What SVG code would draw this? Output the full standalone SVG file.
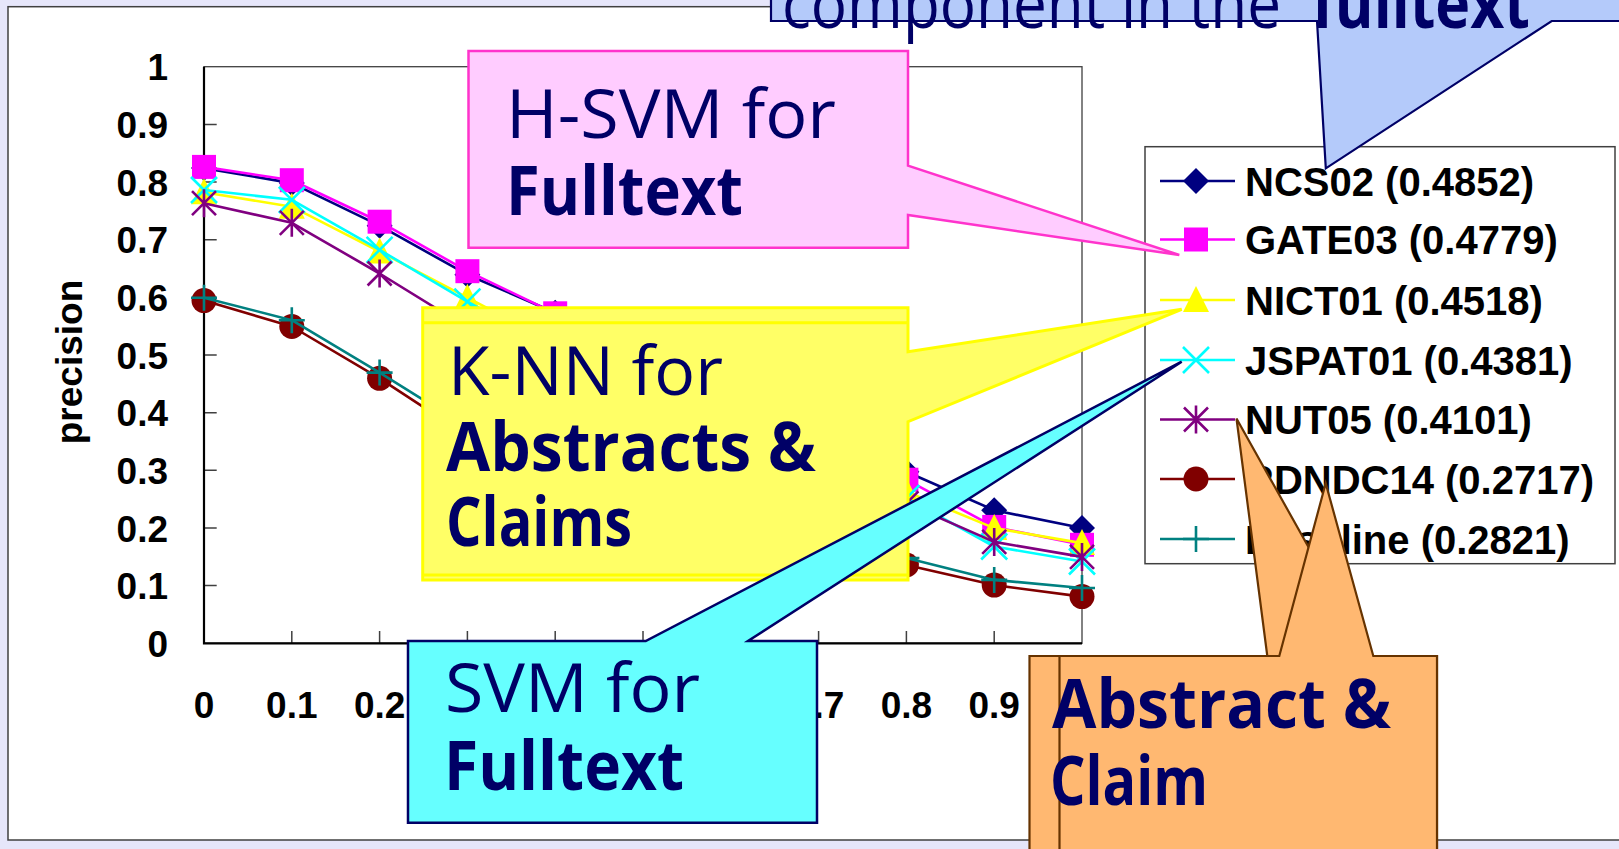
<svg xmlns="http://www.w3.org/2000/svg" xmlns:xlink="http://www.w3.org/1999/xlink" width="1619" height="849" viewBox="0 0 1619 849">
<style>
.ax{font-family:"Liberation Sans",Arial,sans-serif;font-weight:bold;font-size:37px;fill:#000}
.lg{font-family:"Liberation Sans",Arial,sans-serif;font-weight:bold;font-size:40px;fill:#000}
.ct{font-family:"Open Sans","Noto Sans",sans-serif;font-size:68px;fill:#000066}
.cb{font-family:"Open Sans","Noto Sans",sans-serif;font-size:68px;font-weight:bold;fill:#000066}
.ser{fill:none;stroke-width:2.6;stroke-linejoin:round}
</style>
<defs>
<path id="mDia" d="M0,-13 L13,0 L0,13 L-13,0Z" fill="#000080"/>
<rect id="mSq" x="-12" y="-12" width="24" height="24" fill="#FF00FF"/>
<path id="mTri" d="M0,-14 L13,12 L-13,12Z" fill="#FFFF00"/>
<path id="mX" d="M-13,-13L13,13M13,-13L-13,13" stroke="#00FFFF" stroke-width="2.6" fill="none"/>
<path id="mAst" d="M-12,-12L12,12M12,-12L-12,12M0,-14V14" stroke="#800080" stroke-width="2.6" fill="none"/>
<circle id="mCir" r="12.5" fill="#800000"/>
<path id="mPlus" d="M-13,0H13M0,-13V13" stroke="#008080" stroke-width="2.6" fill="none"/>
</defs>
<rect x="0" y="0" width="1619" height="849" fill="#E6E6FA"/>
<rect id="panel" x="8" y="6.7" width="1650" height="833.3" fill="#FFFFFF" stroke="#404040" stroke-width="1.5"/>

<g id="chart">
<rect x="204" y="66.7" width="878" height="576.6" fill="#FFFFFF" stroke="#404040" stroke-width="1.3"/>
<path d="M204,124.4h12.7M204,182h12.7M204,239.7h12.7M204,297.4h12.7M204,355h12.7M204,412.7h12.7M204,470.3h12.7M204,528h12.7M204,585.6h12.7" stroke="#404040" stroke-width="1.5"/>
<path d="M291.8,643.3v-12.3M379.6,643.3v-12.3M467.4,643.3v-12.3M555.2,643.3v-12.3M643,643.3v-12.3M730.8,643.3v-12.3M818.6,643.3v-12.3M906.4,643.3v-12.3M994.2,643.3v-12.3" stroke="#404040" stroke-width="1.5"/>
<path d="M204,66.7V643.3H1082" fill="none" stroke="#000" stroke-width="2.2"/>
<g class="ax" text-anchor="end">
<text x="168" y="80.2">1</text>
<text x="168" y="137.9">0.9</text>
<text x="168" y="195.5">0.8</text>
<text x="168" y="253.2">0.7</text>
<text x="168" y="310.9">0.6</text>
<text x="168" y="368.5">0.5</text>
<text x="168" y="426.2">0.4</text>
<text x="168" y="483.8">0.3</text>
<text x="168" y="541.5">0.2</text>
<text x="168" y="599.1">0.1</text>
<text x="168" y="656.8">0</text>
</g>
<g class="ax" text-anchor="middle">
<text x="204" y="717.5">0</text>
<text x="291.8" y="717.5">0.1</text>
<text x="379.6" y="717.5">0.2</text>
<text x="818.6" y="717.5">0.7</text>
<text x="906.4" y="717.5">0.8</text>
<text x="994.2" y="717.5">0.9</text>
</g>
<text class="ax" x="0" y="0" text-anchor="middle" transform="translate(82,362) rotate(-90)">precision</text>
</g>

<g id="series">
<g id="s-ncs02">
<polyline class="ser" stroke="#000080" points="204,168.1 291.8,183.1 379.6,225.7 467.4,274.7 555.2,312.7 643,355.3 730.8,395.6 818.6,435.9 906.4,471.7 994.2,510.2 1082,528.1"/>
<use xlink:href="#mDia" x="204" y="168.1"/><use xlink:href="#mDia" x="291.8" y="183.1"/><use xlink:href="#mDia" x="379.6" y="225.7"/><use xlink:href="#mDia" x="467.4" y="274.7"/><use xlink:href="#mDia" x="555.2" y="312.7"/><use xlink:href="#mDia" x="643" y="355.3"/><use xlink:href="#mDia" x="730.8" y="395.6"/><use xlink:href="#mDia" x="818.6" y="435.9"/><use xlink:href="#mDia" x="906.4" y="471.7"/><use xlink:href="#mDia" x="994.2" y="510.2"/><use xlink:href="#mDia" x="1082" y="528.1"/>
</g>
<g id="s-gate03">
<polyline class="ser" stroke="#FF00FF" points="204,166.9 291.8,180.2 379.6,221.7 467.4,271.2 555.2,313.3 643,361.1 730.8,401.4 818.6,441.7 906.4,479.7 994.2,526.9 1082,544.8"/>
<use xlink:href="#mSq" x="204" y="166.9"/><use xlink:href="#mSq" x="291.8" y="180.2"/><use xlink:href="#mSq" x="379.6" y="221.7"/><use xlink:href="#mSq" x="467.4" y="271.2"/><use xlink:href="#mSq" x="555.2" y="313.3"/><use xlink:href="#mSq" x="643" y="361.1"/><use xlink:href="#mSq" x="730.8" y="401.4"/><use xlink:href="#mSq" x="818.6" y="441.7"/><use xlink:href="#mSq" x="906.4" y="479.7"/><use xlink:href="#mSq" x="994.2" y="526.9"/><use xlink:href="#mSq" x="1082" y="544.8"/>
</g>
<g id="s-nict01">
<polyline class="ser" stroke="#FFFF00" points="204,192.3 291.8,206.7 379.6,251.6 467.4,297.7 555.2,343.8 643,384.1 730.8,424.4 818.6,459 906.4,491.8 994.2,528.1 1082,543.1"/>
<use xlink:href="#mTri" x="204" y="192.3"/><use xlink:href="#mTri" x="291.8" y="206.7"/><use xlink:href="#mTri" x="379.6" y="251.6"/><use xlink:href="#mTri" x="467.4" y="297.7"/><use xlink:href="#mTri" x="555.2" y="343.8"/><use xlink:href="#mTri" x="643" y="384.1"/><use xlink:href="#mTri" x="730.8" y="424.4"/><use xlink:href="#mTri" x="818.6" y="459"/><use xlink:href="#mTri" x="906.4" y="491.8"/><use xlink:href="#mTri" x="994.2" y="528.1"/><use xlink:href="#mTri" x="1082" y="543.1"/>
</g>
<g id="s-jspat01">
<polyline class="ser" stroke="#00FFFF" points="204,190 291.8,199.8 379.6,249.9 467.4,301.7 555.2,349.5 643,389.9 730.8,430.2 818.6,464.7 906.4,498.1 994.2,546.5 1082,561.5"/>
<use xlink:href="#mX" x="204" y="190"/><use xlink:href="#mX" x="291.8" y="199.8"/><use xlink:href="#mX" x="379.6" y="249.9"/><use xlink:href="#mX" x="467.4" y="301.7"/><use xlink:href="#mX" x="555.2" y="349.5"/><use xlink:href="#mX" x="643" y="389.9"/><use xlink:href="#mX" x="730.8" y="430.2"/><use xlink:href="#mX" x="818.6" y="464.7"/><use xlink:href="#mX" x="906.4" y="498.1"/><use xlink:href="#mX" x="994.2" y="546.5"/><use xlink:href="#mX" x="1082" y="561.5"/>
</g>
<g id="s-nut05">
<polyline class="ser" stroke="#800080" points="204,203.2 291.8,222.8 379.6,273.5 467.4,327.7 555.2,372.6 643,412.9 730.8,447.5 818.6,476.3 906.4,503.3 994.2,541.9 1082,556.9"/>
<use xlink:href="#mAst" x="204" y="203.2"/><use xlink:href="#mAst" x="291.8" y="222.8"/><use xlink:href="#mAst" x="379.6" y="273.5"/><use xlink:href="#mAst" x="467.4" y="327.7"/><use xlink:href="#mAst" x="555.2" y="372.6"/><use xlink:href="#mAst" x="643" y="412.9"/><use xlink:href="#mAst" x="730.8" y="447.5"/><use xlink:href="#mAst" x="818.6" y="476.3"/><use xlink:href="#mAst" x="906.4" y="503.3"/><use xlink:href="#mAst" x="994.2" y="541.9"/><use xlink:href="#mAst" x="1082" y="556.9"/>
</g>
<g id="s-rdndc14">
<polyline class="ser" stroke="#800000" points="204,300.6 291.8,326.5 379.6,378.3 467.4,435.9 555.2,470.5 643,499.3 730.8,528.1 818.6,545.4 906.4,565 994.2,585.1 1082,596.6"/>
<use xlink:href="#mCir" x="204" y="300.6"/><use xlink:href="#mCir" x="291.8" y="326.5"/><use xlink:href="#mCir" x="379.6" y="378.3"/><use xlink:href="#mCir" x="467.4" y="435.9"/><use xlink:href="#mCir" x="555.2" y="470.5"/><use xlink:href="#mCir" x="643" y="499.3"/><use xlink:href="#mCir" x="730.8" y="528.1"/><use xlink:href="#mCir" x="818.6" y="545.4"/><use xlink:href="#mCir" x="906.4" y="565"/><use xlink:href="#mCir" x="994.2" y="585.1"/><use xlink:href="#mCir" x="1082" y="596.6"/>
</g>
<g id="s-baseline">
<polyline class="ser" stroke="#008080" points="204,297.7 291.8,320.2 379.6,372.6 467.4,427.3 555.2,464.7 643,493.5 730.8,522.3 818.6,539.6 906.4,558.1 994.2,579.9 1082,588"/>
<use xlink:href="#mPlus" x="204" y="297.7"/><use xlink:href="#mPlus" x="291.8" y="320.2"/><use xlink:href="#mPlus" x="379.6" y="372.6"/><use xlink:href="#mPlus" x="467.4" y="427.3"/><use xlink:href="#mPlus" x="555.2" y="464.7"/><use xlink:href="#mPlus" x="643" y="493.5"/><use xlink:href="#mPlus" x="730.8" y="522.3"/><use xlink:href="#mPlus" x="818.6" y="539.6"/><use xlink:href="#mPlus" x="906.4" y="558.1"/><use xlink:href="#mPlus" x="994.2" y="579.9"/><use xlink:href="#mPlus" x="1082" y="588"/>
</g>
</g>

<g id="legend">
<rect x="1145" y="146.7" width="470" height="417" fill="#FFFFFF" stroke="#404040" stroke-width="1.5"/>
<path d="M1160,181H1235" stroke="#000080" stroke-width="2.6"/><use xlink:href="#mDia" x="1196" y="181"/>
<path d="M1160,239.5H1235" stroke="#FF00FF" stroke-width="2.6"/><use xlink:href="#mSq" x="1196" y="239.5"/>
<path d="M1160,300H1235" stroke="#FFFF00" stroke-width="2.6"/><use xlink:href="#mTri" x="1196" y="300"/>
<path d="M1160,360H1235" stroke="#00FFFF" stroke-width="2.6"/><use xlink:href="#mX" x="1196" y="360"/>
<path d="M1160,419.5H1235" stroke="#800080" stroke-width="2.6"/><use xlink:href="#mAst" x="1196" y="419.5"/>
<path d="M1160,479H1235" stroke="#800000" stroke-width="2.6"/><use xlink:href="#mCir" x="1196" y="479"/>
<path d="M1160,539H1235" stroke="#008080" stroke-width="2.6"/><use xlink:href="#mPlus" x="1196" y="539"/>
<text class="lg" x="1245" y="195.5">NCS02 (0.4852)</text>
<text class="lg" x="1245" y="254">GATE03 (0.4779)</text>
<text class="lg" x="1245" y="314.5">NICT01 (0.4518)</text>
<text class="lg" x="1245" y="374.5">JSPAT01 (0.4381)</text>
<text class="lg" x="1245" y="434">NUT05 (0.4101)</text>
<text class="lg" x="1245" y="493.5">RDNDC14 (0.2717)</text>
<text class="lg" x="1245" y="553.5">Baseline (0.2821)</text>
</g>

<g id="callout-hsvm">
<path d="M468.5,51 L908,51 L908,165.7 L1179.3,255 L908,215 L908,247.7 L468.5,247.7 Z" fill="#FFCCFF" stroke="#FF33CC" stroke-width="2.5" stroke-linejoin="miter"/>
<text class="ct" x="506" y="138" textLength="330" lengthAdjust="spacingAndGlyphs">H-SVM for</text>
<text class="cb" x="506" y="215" textLength="237" lengthAdjust="spacingAndGlyphs">Fulltext</text>
</g>

<g id="callout-knn">
<path d="M422.7,307.7 L908,307.7 L908,351.7 L1181.7,309.3 L908,421.7 L908,580 L422.7,580 Z" fill="#FFFF66" stroke="#FFFF00" stroke-width="3"/>
<path d="M422.7,322.7H908M422.7,575H908" stroke="#FFFF00" stroke-width="3"/>
<text class="ct" x="448" y="395" textLength="275" lengthAdjust="spacingAndGlyphs">K-NN for</text>
<text class="cb" x="446" y="471" textLength="370" lengthAdjust="spacingAndGlyphs">Abstracts &amp;</text>
<text class="cb" x="446" y="546" textLength="186" lengthAdjust="spacingAndGlyphs">Claims</text>
</g>

<g id="callout-svm">
<path d="M408,641 L645.7,641 L1181.7,361.7 L748,641 L817,641 L817,822.7 L408,822.7 Z" fill="#66FFFF" stroke="#000066" stroke-width="2.5"/>
<text class="ct" x="445" y="712" textLength="255" lengthAdjust="spacingAndGlyphs">SVM for</text>
<text class="cb" x="444" y="790" textLength="240" lengthAdjust="spacingAndGlyphs">Fulltext</text>
</g>

<g id="callout-abstract-claim">
<path d="M1029.5,656 L1267.3,656 L1236.5,418.5 L1369.5,656 L1437,656 L1437,870 L1029.5,870 Z" fill="#FFB871" stroke="#663300" stroke-width="2.2"/>
<path d="M1059.5,656 L1279.3,656 L1325.7,483.3 L1373.3,656 L1437,656 L1437,870 L1059.5,870 Z" fill="#FFB871" stroke="#663300" stroke-width="2.2"/>
<text class="cb" x="1052" y="728" textLength="339" lengthAdjust="spacingAndGlyphs">Abstract &amp;</text>
<text class="cb" x="1050" y="805" textLength="158" lengthAdjust="spacingAndGlyphs">Claim</text>
</g>

<g id="callout-component">
<path d="M771,-20 L1660,-20 L1660,21 L1551.7,21 L1325.8,168.3 L1317,21 L771,21 Z" fill="#B4CAFA" stroke="#000066" stroke-width="2.2"/>
<text class="ct" x="782" y="28" textLength="499" lengthAdjust="spacingAndGlyphs">component in the</text>
<text class="cb" x="1312" y="28" textLength="218" lengthAdjust="spacingAndGlyphs">fulltext</text>
</g>
</svg>
